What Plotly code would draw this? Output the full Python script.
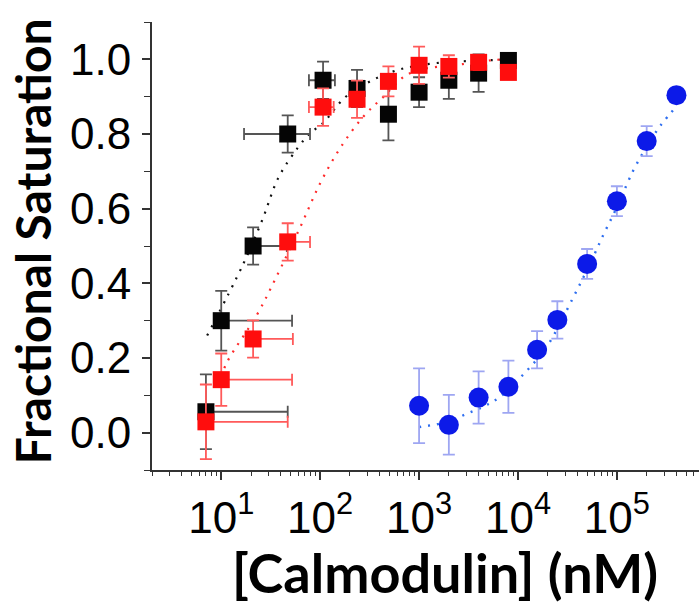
import plotly.graph_objects as go

# ---------------- data ----------------
conc_sq = [7, 10, 21, 47, 107, 236, 490, 1000, 2000, 4000, 8000]

black_y = [0.056, 0.30, 0.50, 0.80, 0.944, 0.922, 0.853, 0.912, 0.944, 0.963, 0.997]
black_err_y = [0.10, 0.08, 0.05, 0.05, 0.05, 0.05, 0.07, 0.04, 0.05, 0.05, 0.01]
black_err_x_plus = [40, 42, 25, 32, 34, 0, 0, 0, 0, 0, 0]
black_err_x_minus = [0, 0, 0, 30, 30, 0, 0, 0, 0, 0, 0]

red_y = [0.029, 0.142, 0.251, 0.511, 0.872, 0.893, 0.941, 0.984, 0.981, 0.992, 0.965]
red_err_y = [0.10, 0.07, 0.05, 0.05, 0.05, 0.05, 0.04, 0.05, 0.03, 0.02, 0.01]
red_err_x_plus = [40, 42, 32, 32, 30, 0, 0, 0, 0, 0, 0]
red_err_x_minus = [0, 0, 0, 0, 30, 0, 0, 0, 0, 0, 0]

blue_x = [1000, 2000, 4000, 8000, 15600, 25000, 50000, 100000, 200000, 400000]
blue_y = [0.072, 0.021, 0.094, 0.123, 0.222, 0.302, 0.452, 0.620, 0.781, 0.904]
blue_err = [0.10, 0.08, 0.07, 0.07, 0.05, 0.05, 0.04, 0.04, 0.04, 0.02]

black_fit_x = [7.2, 16.7, 26, 38, 59, 79, 107, 178, 320, 600, 1380, 5500, 8000]
black_fit_y = [0.26, 0.452, 0.57, 0.684, 0.762, 0.802, 0.829, 0.898, 0.941, 0.971, 0.989, 0.998, 1.0]

red_fit_x = [10, 11.5, 23, 35, 63, 100, 159, 270, 430, 810, 2750, 5600, 8000]
red_fit_y = [0.15, 0.19, 0.316, 0.41, 0.551, 0.668, 0.762, 0.845, 0.898, 0.963, 0.987, 0.998, 1.0]

blue_fit_x = [1000, 2000, 3000, 4500, 6600, 11700, 19500, 36000, 54000, 73000, 100000, 145000, 204000, 280000, 403000]
blue_fit_y = [0.015, 0.03, 0.05, 0.07, 0.096, 0.16, 0.23, 0.361, 0.455, 0.53, 0.604, 0.70, 0.77, 0.825, 0.875]

x_tick_vals = [10, 100, 1000, 10000, 100000]
x_tick_text = ["10<sup>1</sup>", "10<sup>2</sup>", "10<sup>3</sup>", "10<sup>4</sup>", "10<sup>5</sup>"]

x_title = "[Calmodulin] (nM)"
y_title = "Fractional Saturation"

# ---------------- figure ----------------
fig = go.Figure()

dot = "2px,7px"
tick_font = "Liberation Sans, Arial, sans-serif"

fig.add_trace(go.Scatter(x=black_fit_x, y=black_fit_y, mode="lines",
                         line=dict(color="#111111", width=2.2, dash=dot, shape="spline"),
                         showlegend=False, hoverinfo="skip"))
fig.add_trace(go.Scatter(x=red_fit_x, y=red_fit_y, mode="lines",
                         line=dict(color="#ff2a2a", width=2.2, dash=dot, shape="spline"),
                         showlegend=False, hoverinfo="skip"))
fig.add_trace(go.Scatter(x=blue_fit_x, y=blue_fit_y, mode="lines",
                         line=dict(color="#2f6ff0", width=2.4, dash=dot, shape="spline"),
                         showlegend=False, hoverinfo="skip"))

fig.add_trace(go.Scatter(
    x=conc_sq, y=black_y, mode="markers",
    marker=dict(symbol="square", size=17, color="#050505"),
    error_y=dict(type="data", array=black_err_y, color="#555555", thickness=1.8, width=6),
    error_x=dict(type="data", array=black_err_x_plus, arrayminus=black_err_x_minus,
                 color="#555555", thickness=1.8, width=6),
    showlegend=False))

fig.add_trace(go.Scatter(
    x=conc_sq, y=red_y, mode="markers",
    marker=dict(symbol="square", size=17, color="#ff0d0d"),
    error_y=dict(type="data", array=red_err_y, color="#ff5a5a", thickness=1.8, width=6),
    error_x=dict(type="data", array=red_err_x_plus, arrayminus=red_err_x_minus,
                 color="#ff5a5a", thickness=1.8, width=6),
    showlegend=False))

fig.add_trace(go.Scatter(
    x=blue_x, y=blue_y, mode="markers",
    marker=dict(symbol="circle", size=20, color="#0c1ae8"),
    error_y=dict(type="data", array=blue_err, color="#9ea6f2", thickness=1.8, width=6),
    showlegend=False))

fig.update_layout(
    width=699, height=608,
    margin=dict(l=152, r=0, t=22, b=138),
    plot_bgcolor="white", paper_bgcolor="white",
    font=dict(family=tick_font, color="black"),
)

fig.update_xaxes(
    type="log", range=[0.3, 5.83],
    tickvals=x_tick_vals, ticktext=x_tick_text,
    tickfont=dict(size=44, family=tick_font),
    showline=True, linecolor="#333333", linewidth=2,
    ticks="outside", ticklen=8, tickwidth=1.5, tickcolor="#333333",
    minor=dict(ticks="outside", ticklen=4, tickwidth=1.2, tickcolor="#333333", dtick="D1"),
    showgrid=False, zeroline=False, mirror=False,
)

fig.update_yaxes(
    range=[-0.1, 1.1], tick0=0, dtick=0.2, tickformat=".1f",
    tickfont=dict(size=44, family=tick_font),
    showline=True, linecolor="#333333", linewidth=2,
    ticks="outside", ticklen=8, tickwidth=1.5, tickcolor="#333333",
    minor=dict(ticks="outside", ticklen=6, tickwidth=1.2, tickcolor="#333333", dtick=0.1),
    showgrid=False, zeroline=False, mirror=False,
    ticklabelstandoff=2,
)

fig.add_annotation(text=y_title, xref="paper", yref="paper",
                   x=-0.218, y=0.51, xanchor="center", yanchor="middle",
                   textangle=-90, showarrow=False,
                   font=dict(family="Lato, sans-serif", size=48, color="black", weight="bold"))
fig.add_annotation(text=x_title, xref="paper", yref="paper",
                   x=0.535, y=-0.2299, xanchor="center", yanchor="middle",
                   showarrow=False,
                   font=dict(family="Lato, sans-serif", size=54, color="black", weight="bold"))

fig.write_html("out.html")
